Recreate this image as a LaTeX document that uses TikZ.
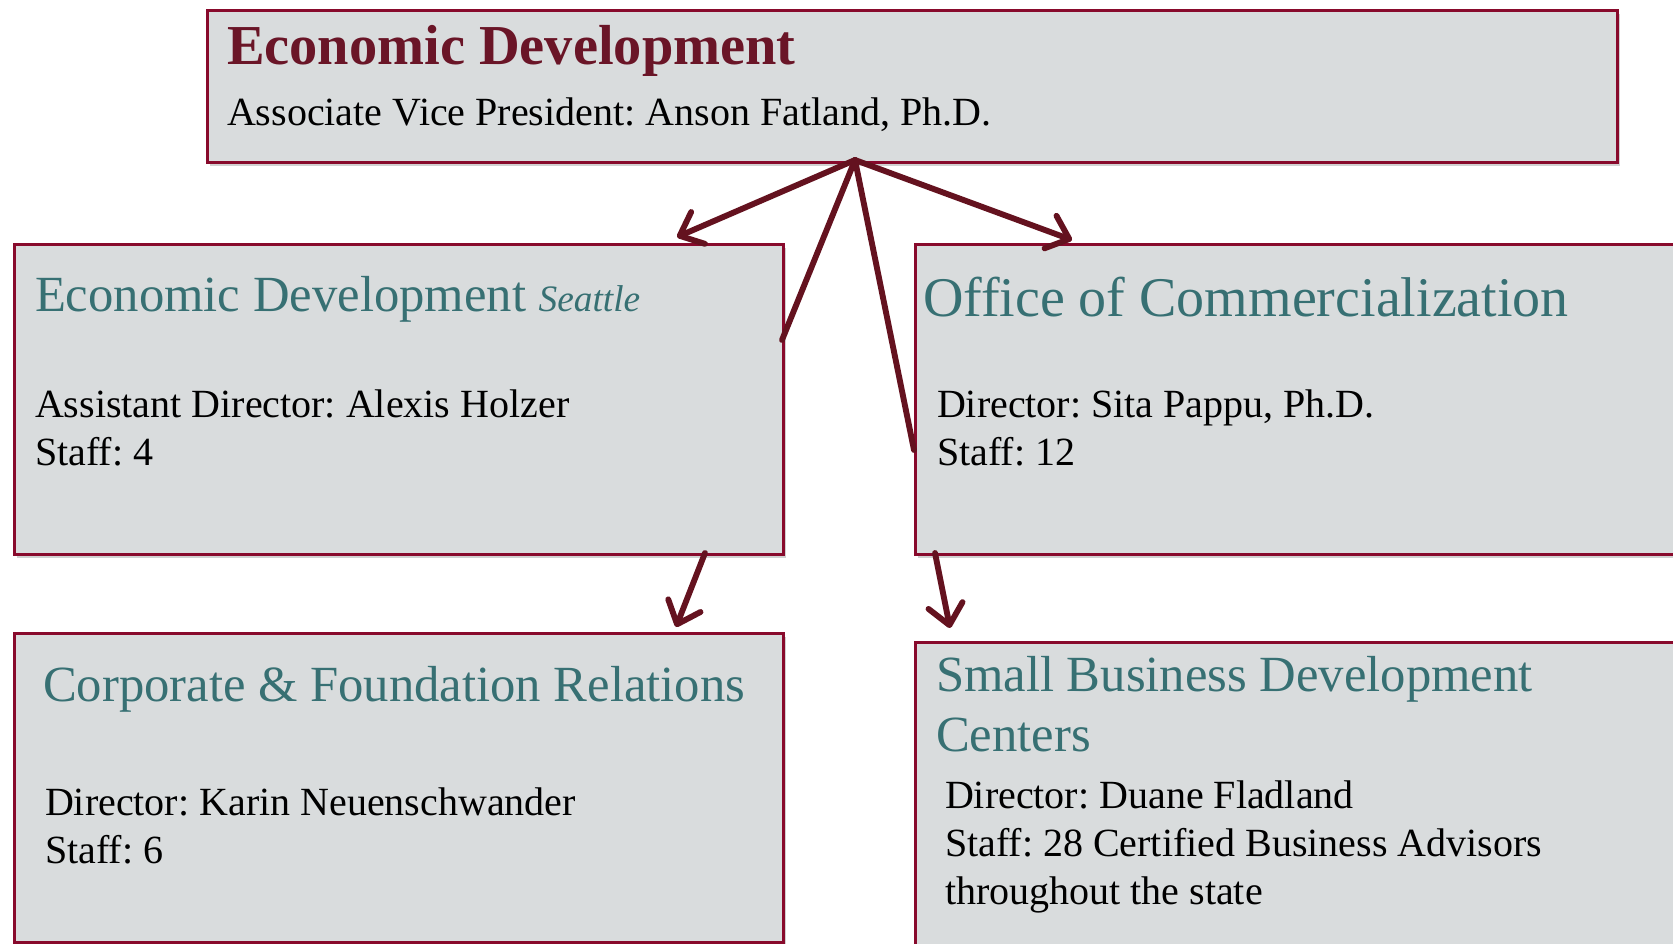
\documentclass[tikz,border=0pt]{standalone}
\usepackage{fontspec}
\setmainfont{Liberation Serif}
\frenchspacing
\usetikzlibrary{arrows.meta}
\definecolor{boxfill}{HTML}{D9DCDD}
\definecolor{boxline}{HTML}{880A2C}
\definecolor{teal}{HTML}{377073}
\definecolor{titlered}{HTML}{6A1527}
\definecolor{arrowred}{HTML}{64121F}
\tikzset{
  box/.style={draw=boxline, fill=boxfill, line width=2pt, anchor=north west, inner sep=0pt,
    preaction={draw=none, fill=black, opacity=0.18, transform canvas={shift={(2pt,-3pt)}}}},
  txt/.style={anchor=base west, inner sep=0pt, outer sep=0pt},
  bodytxt/.style={txt, font=\fontsize{30pt}{36pt}\selectfont, text=black},
  headtxt/.style={txt, font=\fontsize{38pt}{45pt}\selectfont, text=teal},
  conn/.style={draw=arrowred, line width=4.4pt, line cap=round, line join=round},
  arr/.style={conn, -{Straight Barb[length=15pt, width=26pt, round]}},
}
\begin{document}
\begin{tikzpicture}[x=0.75pt, y=-0.75pt]
\useasboundingbox (0,0) rectangle (1673,943);
\clip (0,0) rectangle (1673,943);
% boxes
\node[box, minimum width=1057.5pt, minimum height=114pt] (top) at (206,9) {};
\node[box, minimum width=576.75pt, minimum height=232.5pt] (lmid) at (13,243) {};
\node[box, minimum width=600pt, minimum height=232.5pt] (rmid) at (914,243) {};
\node[box, minimum width=576.75pt, minimum height=231.75pt] (lbot) at (13,632) {};
\node[box, minimum width=600pt, minimum height=240pt] (rbot) at (914,641) {};
% texts
\node[txt, font=\fontsize{42.3pt}{50pt}\selectfont\bfseries, text=titlered] (title) at (227,64) {Economic Development};
\node[bodytxt] (avp) at (227,125) {Associate Vice President: Anson Fatland, Ph.D.};
\node[headtxt] (lmidh) at (35,311) {Economic Development {\fontsize{28pt}{33pt}\selectfont\itshape Seattle}};
\node[bodytxt] (lmidb1) at (35,417) {Assistant Director: Alexis Holzer};
\node[bodytxt] (lmidb2) at (35,465) {Staff: 4};
\node[headtxt, font=\fontsize{42pt}{50pt}\selectfont] (rmidh) at (923,316) {Office of Commercialization};
\node[bodytxt] (rmidb1) at (937,417) {Director: Sita Pappu, Ph.D.};
\node[bodytxt] (rmidb2) at (937,465) {Staff: 12};
\node[headtxt] (lboth) at (43,701) {Corporate \& Foundation Relations};
\node[bodytxt] (lbotb1) at (45,815) {Director: Karin Neuenschwander};
\node[bodytxt] (lbotb2) at (45,863) {Staff: 6};
\node[headtxt] (rboth1) at (936,691) {Small Business Development};
\node[headtxt] (rboth2) at (936,751) {Centers};
\node[bodytxt] (rbotb1) at (945,808) {Director: Duane Fladland};
\node[bodytxt] (rbotb2) at (945,856) {Staff: 28 Certified Business Advisors};
\node[bodytxt] (rbotb3) at (945,904) {throughout the state};
% connector end points
\coordinate (apex) at (855,160);
\coordinate (e1) at (677,237);
\coordinate (e2) at (782,340);
\coordinate (e3) at (914,450);
\coordinate (e4) at (1072,240);
\coordinate (s5) at (705,553);
\coordinate (e5) at (676,627);
\coordinate (s6) at (935,553);
\coordinate (e6) at (950,628);
% connectors
\draw[arr] (apex) -- (e1);
\draw[conn] (apex) -- (e2);
\draw[conn] (apex) -- (e3);
\draw[arr] (apex) -- (e4);
\draw[arr] (s5) -- (e5);
\draw[arr] (s6) -- (e6);
\end{tikzpicture}
\end{document}
